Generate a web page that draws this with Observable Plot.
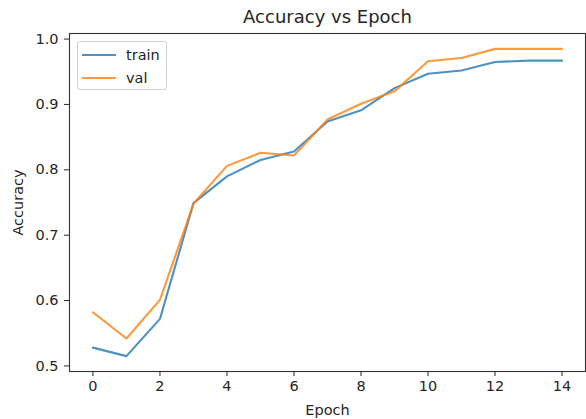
<!DOCTYPE html>
<html>
<head>
<meta charset="utf-8">
<script src="https://cdn.jsdelivr.net/npm/d3@7"></script>
<script src="https://cdn.jsdelivr.net/npm/@observablehq/plot@0.6"></script>
<style>
  html, body { margin: 0; padding: 0; background: #fff; }
  #wrap { position: relative; width: 586px; height: 419px; font-family: "DejaVu Sans", sans-serif; }
  #legend { position: absolute; left: 77px; top: 41px; width: 90px; height: 49px; box-sizing: border-box;
    border: 1px solid #d0d0d0; border-radius: 3px; background: rgba(255,255,255,0.8); }
  .row { position: absolute; left: 4px; height: 20px; display: flex; align-items: center; font-size: 14.5px; color: #262626; }
  .row svg { margin-right: 10px; }
</style>
</head>
<body>
<div id="wrap"></div>
<script>
const epochs = [0, 1, 2, 3, 4, 5, 6, 7, 8, 9, 10, 11, 12, 13, 14];
const train = [0.528, 0.515, 0.572, 0.749, 0.790, 0.815, 0.828, 0.874, 0.891, 0.925, 0.947, 0.952, 0.965, 0.967, 0.967];
const val   = [0.582, 0.542, 0.601, 0.748, 0.806, 0.826, 0.822, 0.877, 0.901, 0.920, 0.966, 0.971, 0.985, 0.985, 0.985];
const seriesNames = ["train", "val"];
const seriesColors = ["#1f77b4", "#ff7f0e"];
const xTicks = [0, 2, 4, 6, 8, 10, 12, 14];
const yTicks = [0.5, 0.6, 0.7, 0.8, 0.9, 1.0];
const titleText = "Accuracy vs Epoch";
const xLabel = "Epoch";
const yLabel = "Accuracy";

const rows = [];
epochs.forEach((e, i) => {
  rows.push({epoch: e, acc: train[i], series: seriesNames[0]});
  rows.push({epoch: e, acc: val[i], series: seriesNames[1]});
});

const ink = "#262626";
const chart = Plot.plot({
  width: 586,
  height: 419,
  marginLeft: 69,
  marginRight: 1,
  marginTop: 33,
  marginBottom: 48,
  style: {fontFamily: "DejaVu Sans, sans-serif", fontSize: "14.5px", color: ink, background: "#fff", overflow: "visible"},
  x: {domain: [-0.7, 14.7]},
  y: {domain: [0.4915, 1.0085]},
  color: {domain: seriesNames, range: seriesColors},
  marks: [
    Plot.line(rows, {x: "epoch", y: "acc", z: "series", stroke: "series", strokeWidth: 2.1, strokeOpacity: 0.8}),
    Plot.frame({stroke: "#333", strokeWidth: 1.1}),
    Plot.axisX({ticks: xTicks, tickSize: 5, tickPadding: 4, tickFormat: d3.format("d"), label: xLabel, labelAnchor: "center", labelOffset: 43, labelArrow: "none"}),
    Plot.axisY({ticks: yTicks, tickSize: 5, tickPadding: 6, tickFormat: d3.format(".1f"), label: yLabel, labelAnchor: "center", labelOffset: 57, labelArrow: "none"}),
    Plot.text([titleText], {frameAnchor: "top", dy: -16, lineAnchor: "middle", fontSize: 18, fill: ink})
  ]
});

const wrap = document.getElementById("wrap");
wrap.appendChild(chart);

const legend = document.createElement("div");
legend.id = "legend";
seriesNames.forEach((name, i) => {
  const row = document.createElement("div");
  row.className = "row";
  row.style.top = (3 + i * 23) + "px";
  row.innerHTML = `<svg width="34" height="6"><line x1="0" y1="3" x2="34" y2="3" stroke="${seriesColors[i]}" stroke-opacity="0.8" stroke-width="2.1"/></svg><span>${name}</span>`;
  legend.appendChild(row);
});
wrap.appendChild(legend);
</script>
</body>
</html>
